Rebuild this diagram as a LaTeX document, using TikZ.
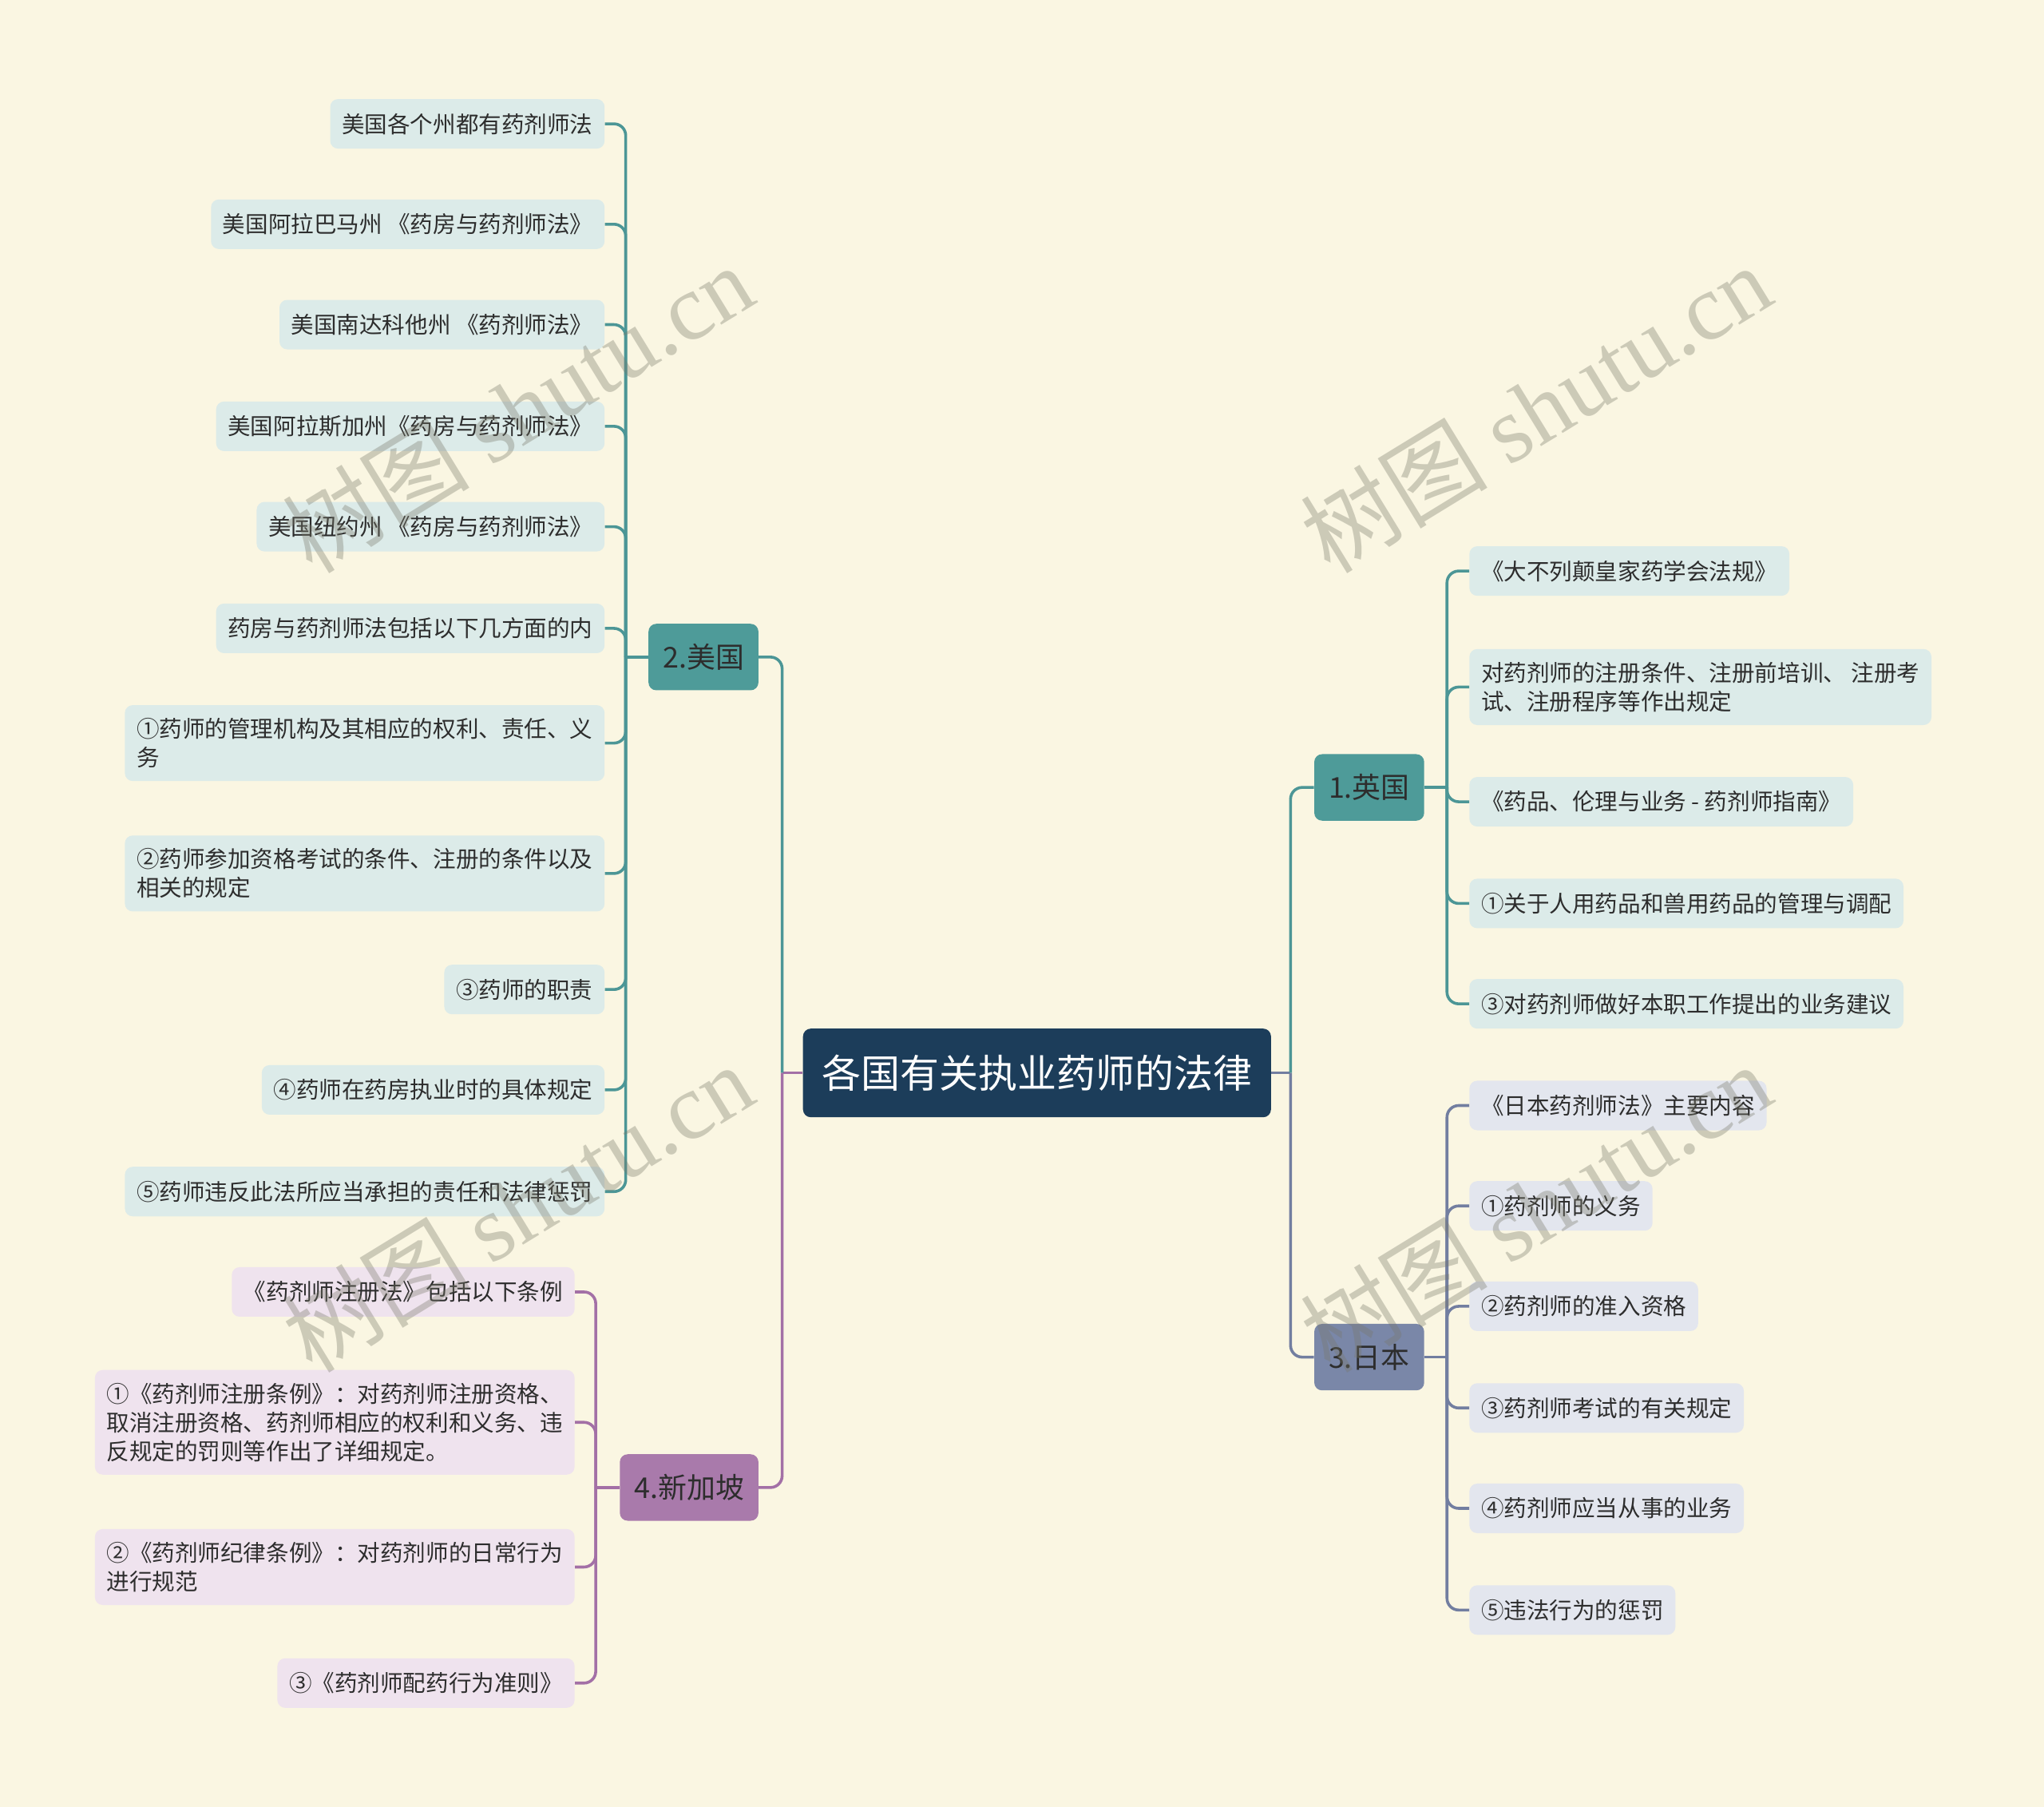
\documentclass[tikz,border=0pt]{standalone}
\usepackage{fontspec}
\setmainfont{Noto Sans CJK SC}
\newfontfamily\wmlatin{Liberation Serif}
\usetikzlibrary{calc}
\definecolor{bg}{RGB}{250,246,226}
\definecolor{rootc}{RGB}{28,61,90}
\definecolor{tealc}{RGB}{78,155,153}
\definecolor{tealln}{RGB}{76,150,150}
\definecolor{jpc}{RGB}{122,135,168}
\definecolor{jpln}{RGB}{114,126,160}
\definecolor{sgc}{RGB}{169,122,171}
\definecolor{sgln}{RGB}{163,112,166}
\definecolor{leafT}{RGB}{220,235,233}
\definecolor{leafJ}{RGB}{227,230,238}
\definecolor{leafS}{RGB}{239,227,238}
\definecolor{txt}{RGB}{45,45,45}
\definecolor{wmc}{RGB}{120,120,105}
\begin{document}
\begin{tikzpicture}[x=1pt,y=-1pt,
  leaf/.style={rounded corners=6pt, inner xsep=9pt, inner ysep=10pt, minimum height=38pt,
    font=\fontsize{17.5}{22}\selectfont, text=txt, align=left},
  leafT/.style={leaf, fill=leafT},
  leafJ/.style={leaf, fill=leafJ},
  leafS/.style={leaf, fill=leafS},
  branch/.style={rounded corners=6pt, inner xsep=11pt, minimum height=51pt,
    font=\fontsize{22}{26}\selectfont, text=txt},
  con/.style={line width=2.2pt, rounded corners=9pt},
  wm/.style={rotate=31.5, text=wmc, opacity=0.35, font=\fontsize{72}{80}\selectfont}
]
\useasboundingbox (0,0) rectangle (1568,1386);
\fill[bg] (0,0) rectangle (1568,1386);

% root
\node[rounded corners=6pt, fill=rootc, text=white, inner xsep=14pt, minimum width=359pt, minimum height=68pt,
  font=\fontsize{30}{34}\selectfont] (root) at (795.5,823) {各国有关执业药师的法律};

% branches
\node[branch, fill=tealc, anchor=west] (uk) at (1008,604) {1.英国};
\node[branch, fill=tealc, anchor=east] (us) at (582,504) {2.美国};
\node[branch, fill=jpc, anchor=west] (jp) at (1008,1041) {3.日本};
\node[branch, fill=sgc, anchor=east] (sg) at (582,1141) {4.新加坡};

% US leaves
\node[leafT, anchor=east] (u1) at (464,95) {美国各个州都有药剂师法};
\node[leafT, anchor=east] (u2) at (464,172) {美国阿拉巴马州 《药房与药剂师法》};
\node[leafT, anchor=east] (u3) at (464,249) {美国南达科他州 《药剂师法》};
\node[leafT, anchor=east] (u4) at (464,327) {美国阿拉斯加州《药房与药剂师法》};
\node[leafT, anchor=east] (u5) at (464,404) {美国纽约州 《药房与药剂师法》};
\node[leafT, anchor=east] (u6) at (464,482) {药房与药剂师法包括以下几方面的内};
\node[leafT, anchor=east] (u7) at (464,570) {①药师的管理机构及其相应的权利、责任、义\\务};
\node[leafT, anchor=east] (u8) at (464,670) {②药师参加资格考试的条件、注册的条件以及\\相关的规定};
\node[leafT, anchor=east] (u9) at (464,759) {③药师的职责};
\node[leafT, anchor=east] (u10) at (464,836) {④药师在药房执业时的具体规定};
\node[leafT, anchor=east] (u11) at (464,914) {⑤药师违反此法所应当承担的责任和法律惩罚};

% UK leaves
\node[leafT, anchor=west] (k1) at (1127,438) {《大不列颠皇家药学会法规》};
\node[leafT, anchor=west] (k2) at (1127,527) {对药剂师的注册条件、注册前培训、 注册考\\试、注册程序等作出规定};
\node[leafT, anchor=west] (k3) at (1127,615) {《药品、伦理与业务 - 药剂师指南》};
\node[leafT, anchor=west] (k4) at (1127,693) {①关于人用药品和兽用药品的管理与调配};
\node[leafT, anchor=west] (k5) at (1127,770) {③对药剂师做好本职工作提出的业务建议};

% Japan leaves
\node[leafJ, anchor=west] (j1) at (1127,848) {《日本药剂师法》主要内容};
\node[leafJ, anchor=west] (j2) at (1127,925) {①药剂师的义务};
\node[leafJ, anchor=west] (j3) at (1127,1002) {②药剂师的准入资格};
\node[leafJ, anchor=west] (j4) at (1127,1080) {③药剂师考试的有关规定};
\node[leafJ, anchor=west] (j5) at (1127,1157) {④药剂师应当从事的业务};
\node[leafJ, anchor=west] (j6) at (1127,1235) {⑤违法行为的惩罚};

% Singapore leaves
\node[leafS, anchor=east] (s1) at (441,991) {《药剂师注册法》包括以下条例};
\node[leafS, anchor=east] (s2) at (441,1091) {①《药剂师注册条例》：对药剂师注册资格、\\取消注册资格、药剂师相应的权利和义务、违\\反规定的罚则等作出了详细规定。};
\node[leafS, anchor=east] (s3) at (441,1202) {②《药剂师纪律条例》：对药剂师的日常行为\\进行规范};
\node[leafS, anchor=east] (s4) at (441,1291) {③《药剂师配药行为准则》};

% junction coordinates
\coordinate (jl) at (600,823);
\coordinate (jr) at (990,823);
\coordinate (jus) at (480,504);
\coordinate (juk) at (1110,604);
\coordinate (jjp) at (1110,1041);
\coordinate (jsg) at (457,1141);

% root connectors
\draw[con, sgln] (root.west) -- (jl);
\draw[con, jpln] (root.east) -- (jr);
\draw[con, tealln] (jl) |- (us.east);
\draw[con, sgln] (jl) |- (sg.east);
\draw[con, tealln] (jr) |- (uk.west);
\draw[con, jpln] (jr) |- (jp.west);

% US connectors
\draw[con, tealln] (us.west) -- (jus);
\foreach \n in {u1,u2,u3,u4,u5,u6,u7,u8,u9,u10,u11}
  \draw[con, tealln] (jus) |- (\n.east);
% UK connectors
\draw[con, tealln] (uk.east) -- (juk);
\foreach \n in {k1,k2,k3,k4,k5}
  \draw[con, tealln] (juk) |- (\n.west);
% Japan connectors
\draw[con, jpln] (jp.east) -- (jjp);
\foreach \n in {j1,j2,j3,j4,j5,j6}
  \draw[con, jpln] (jjp) |- (\n.west);
% Singapore connectors
\draw[con, sgln] (sg.west) -- (jsg);
\foreach \n in {s1,s2,s3,s4}
  \draw[con, sgln] (jsg) |- (\n.east);

% watermarks
\node[wm] (w1) at (397,313) {树图 {\wmlatin shutu.cn}};
\node[wm] (w2) at (1178,313) {树图 {\wmlatin shutu.cn}};
\node[wm] (w3) at (397,926) {树图 {\wmlatin shutu.cn}};
\node[wm] (w4) at (1178,926) {树图 {\wmlatin shutu.cn}};
\end{tikzpicture}
\end{document}
